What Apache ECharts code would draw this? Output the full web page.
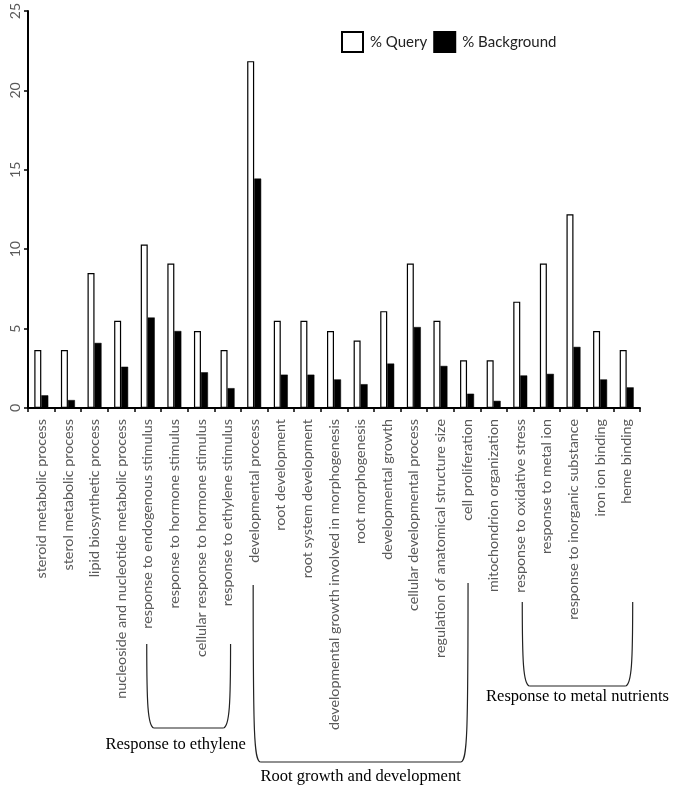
<!DOCTYPE html>
<html>
<head>
<meta charset="utf-8">
<script src="https://cdn.jsdelivr.net/npm/echarts@6/dist/echarts.min.js"></script>
<style>
html,body{margin:0;padding:0;background:#fff;}
#chart{width:675px;height:788px;}
</style>
</head>
<body>
<div id="chart"></div>
<script>
const categories = [
  'steroid metabolic process',
  'sterol metabolic process',
  'lipid biosynthetic process',
  'nucleoside and nucleotide metabolic process',
  'response to endogenous stimulus',
  'response to hormone stimulus',
  'cellular response to hormone stimulus',
  'response to ethylene stimulus',
  'developmental process',
  'root development',
  'root system development',
  'developmental growth involved in morphogenesis',
  'root morphogenesis',
  'developmental growth',
  'cellular developmental process',
  'regulation of anatomical structure size',
  'cell proliferation',
  'mitochondrion organization',
  'response to oxidative stress',
  'response to metal ion',
  'response to inorganic substance',
  'iron ion binding',
  'heme binding'
];
const queryValues = [3.65, 3.65, 8.5, 5.5, 10.3, 9.1, 4.85, 3.65, 21.85, 5.5, 5.5, 4.85, 4.25, 6.1, 9.1, 5.5, 3.0, 3.0, 6.7, 9.1, 12.2, 4.85, 3.65];
const backgroundValues = [0.8, 0.5, 4.1, 2.6, 5.7, 4.85, 2.25, 1.25, 14.45, 2.1, 2.1, 1.8, 1.5, 2.8, 5.1, 2.65, 0.9, 0.45, 2.05, 2.15, 3.85, 1.8, 1.3];
const yTicks = [0, 5, 10, 15, 20, 25];
const seriesNames = ['% Query', '% Background'];
// groups: [first category index, last category index, label]
const groups = [
  [4, 7, 'Response to ethylene'],
  [8, 16, 'Root growth and development'],
  [18, 22, 'Response to metal nutrients']
];

const chart = echarts.init(document.getElementById('chart'), null, {renderer: 'canvas'});
const labelColor = '#595959';
const option = {
  animation: false,
  backgroundColor: '#fff',
  grid: {left: 28, right: 35, top: 10, bottom: 380, containLabel: false},
  legend: {
    left: 336, top: 26,
    icon: 'rect',
    itemWidth: 21, itemHeight: 20, itemGap: 6,
    textStyle: {fontFamily: 'Lato', fontSize: 15, color: '#222', padding: [0, 0, 0, 2]},
    data: seriesNames
  },
  xAxis: {
    type: 'category',
    data: categories,
    axisLine: {lineStyle: {color: '#000', width: 2}},
    axisTick: {show: true, length: 4, lineStyle: {color: '#000', width: 1.5}},
    axisLabel: {rotate: 90, interval: 0, color: labelColor, fontFamily: 'Lato', fontSize: 14.3, margin: 11}
  },
  yAxis: {
    type: 'value', min: yTicks[0], max: yTicks[yTicks.length - 1], interval: 5,
    splitLine: {show: false},
    axisLine: {show: true, lineStyle: {color: '#000', width: 2}},
    axisTick: {show: true, length: 4, lineStyle: {color: '#000', width: 1.5}},
    axisLabel: {rotate: 90, color: labelColor, fontFamily: 'Lato', fontSize: 14, margin: 6}
  },
  series: [
    {name: seriesNames[0], type: 'bar', data: queryValues, barWidth: 7, barGap: '0%',
     itemStyle: {color: '#fff', borderColor: '#000', borderWidth: 1.2}},
    {name: seriesNames[1], type: 'bar', data: backgroundValues, barWidth: 7,
     itemStyle: {color: '#000', borderColor: '#000', borderWidth: 0.5}}
  ]
};
chart.setOption(option);

// brackets beneath category labels
const bracketSpecs = [
  {topL: 644, topR: 644, bottom: 728, dxL: -1, dxR: 3, labelY: 745, labelDx: -13},
  {topL: 585, topR: 583, bottom: 762, dxL: -1, dxR: 1, labelY: 777, labelDx: 0},
  {topL: 602, topR: 602, bottom: 686, dxL: 2, dxR: 6, labelY: 697, labelDx: 0}
];
const graphics = [];
const lineStyle = {fill: null, stroke: '#222', lineWidth: 1.2};
groups.forEach((g, i) => {
  const s = bracketSpecs[i];
  const xl = chart.convertToPixel({xAxisIndex: 0}, g[0]) + s.dxL;
  const xr = chart.convertToPixel({xAxisIndex: 0}, g[1]) + s.dxR;
  const b = s.bottom, r = 7;
  graphics.push({type: 'bezierCurve', silent: true, style: lineStyle,
    shape: {x1: xl, y1: s.topL, cpx1: xl, cpy1: b - 25, cpx2: xl + 1, cpy2: b - 2, x2: xl + r, y2: b}});
  graphics.push({type: 'line', silent: true, style: lineStyle,
    shape: {x1: xl + r, y1: b, x2: xr - r, y2: b}});
  graphics.push({type: 'bezierCurve', silent: true, style: lineStyle,
    shape: {x1: xr - r, y1: b, cpx1: xr - 1, cpy1: b - 2, cpx2: xr, cpy2: b - 25, x2: xr, y2: s.topR}});
  graphics.push({type: 'text', x: (xl + xr) / 2 + s.labelDx, y: s.labelY, silent: true,
    style: {text: g[2], fontFamily: 'Liberation Serif', fontSize: 16.5, fill: '#000', align: 'center', verticalAlign: 'middle'}});
});
chart.setOption({graphic: graphics});
</script>
</body>
</html>
